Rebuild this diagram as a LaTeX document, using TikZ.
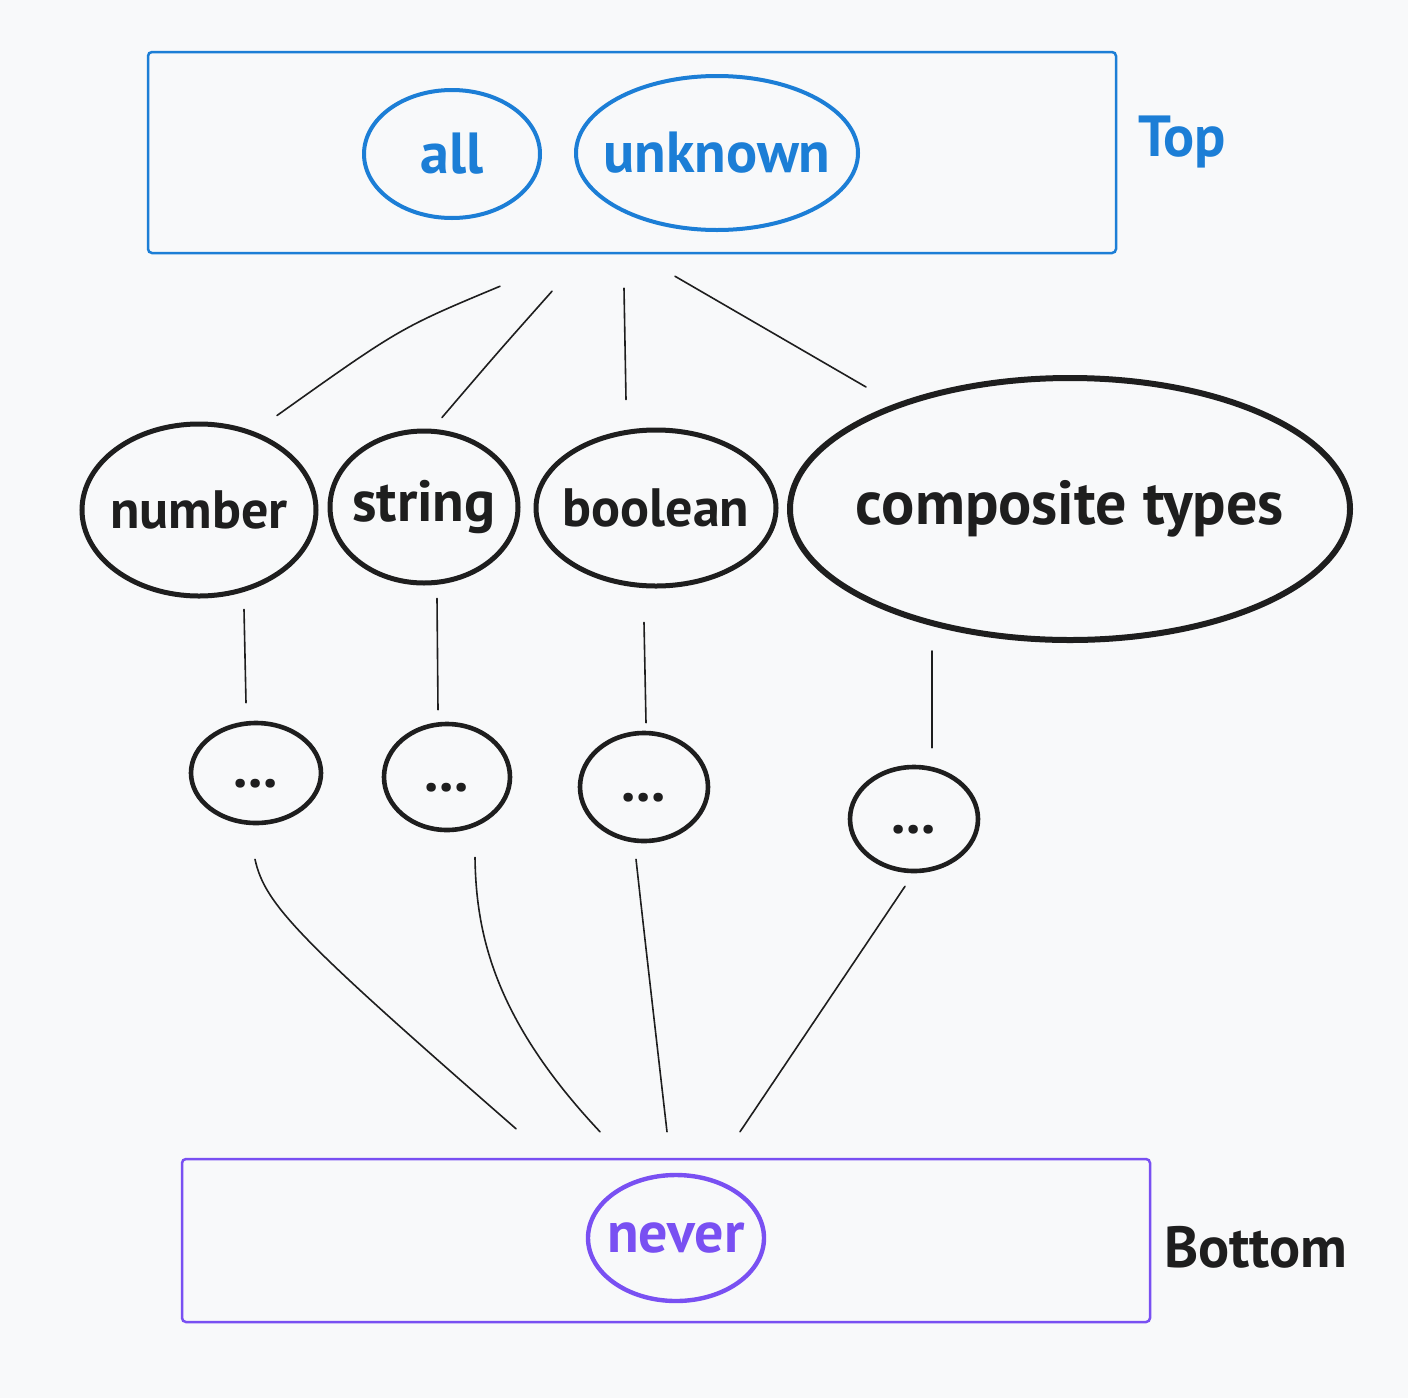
\documentclass[tikz,border=0pt]{standalone}
\usepackage{fontspec}
\setmainfont{PT Sans}
\usetikzlibrary{shapes.geometric,calc}
\definecolor{bg}{HTML}{F8F9FA}
\definecolor{tblue}{HTML}{1C7ED6}
\definecolor{tviolet}{HTML}{7950F2}
\definecolor{ink}{HTML}{1E1E1E}
\newcommand{\zw}[1]{\makebox[0pt]{#1}}
\tikzset{
  box/.style={draw, rectangle, rounded corners=2pt, line width=1.25pt, inner sep=0pt},
  oval/.style={draw=ink, ellipse, inner sep=0pt, line width=2.5pt, text=ink,
    font=\fontsize{29}{30}\selectfont\bfseries},
  smalltext/.style={font=\fontsize{27}{28}\selectfont\bfseries},
  blueoval/.style={oval, draw=tblue, text=tblue, line width=2pt},
  violetoval/.style={oval, draw=tviolet, text=tviolet, line width=2.2pt},
  dotoval/.style={oval, line width=2.3pt},
  conn/.style={draw=ink, line width=0.8pt, line cap=round},
  lbl/.style={font=\fontsize{29}{30}\selectfont\bfseries, inner sep=0pt}
}
\begin{document}
\begin{tikzpicture}[x=0.5pt,y=-0.5pt]
\fill[bg] (0,0) rectangle (1408,1398);
\useasboundingbox (0,0) rectangle (1408,1398);

% top band
\node[box, draw=tblue, minimum width=484pt, minimum height=100.5pt] (top) at (632,152.5) {};
\node[blueoval, minimum width=88pt, minimum height=64pt] (all) at (452,154) {\zw{all}};
\node[blueoval, minimum width=141pt, minimum height=77pt] (unknown) at (717,153) {\zw{unknown}};
\node[lbl, text=tblue] (toplbl) at (1182,142) {Top};

% bottom band
\node[box, draw=tviolet, minimum width=484pt, minimum height=81.5pt] (bottom) at (666,1240.5) {};
\node[violetoval, minimum width=88pt, minimum height=63pt] (never) at (676,1238) {\zw{never}};
\node[lbl, text=ink] (botlbl) at (1256,1247) {Bottom};

% middle types
\node[oval, smalltext, minimum width=117pt, minimum height=86pt] (number) at (199,510) {\zw{number}};
\node[oval, minimum width=94pt, minimum height=76pt] (string) at (424,507) {\zw{string}};
\node[oval, smalltext, minimum width=120pt, minimum height=78pt] (boolean) at (656,508) {\zw{boolean}};
\node[oval, minimum width=280pt, minimum height=131pt, line width=3pt,
  font=\fontsize{31}{32}\selectfont\bfseries] (composite) at (1070,509) {\zw{composite types}};

% subtypes
\node[dotoval, minimum width=65pt, minimum height=50pt] (d1) at (256,773) {\vphantom{x}\zw{...}};
\node[dotoval, minimum width=63pt, minimum height=53pt] (d2) at (447,777) {\vphantom{x}\zw{...}};
\node[dotoval, minimum width=64pt, minimum height=54pt] (d3) at (644,787) {\vphantom{x}\zw{...}};
\node[dotoval, minimum width=64pt, minimum height=52pt] (d4) at (914,819) {\vphantom{x}\zw{...}};

% top -> types
\draw[conn] ($(top.south)+(-132,32)$) .. controls (400,328) .. ($(number.north)+(78,-6)$);
\draw[conn] ($(top.south)+(-80,37)$) .. controls (498,352) .. ($(string.north)+(18,-11)$);
\draw[conn] ($(top.south)+(-8,34)$) -- ($(boolean.north)+(-30,-28)$);
\draw[conn] ($(top.south)+(43,22)$) -- ($(composite.north)+(-204,12)$);

% types -> subtypes
\draw[conn] ($(number.south)+(45,11)$) -- ($(d1.north)+(-10,-18)$);
\draw[conn] ($(string.south)+(13,13)$) -- ($(d2.north)+(-9,-12)$);
\draw[conn] ($(boolean.south)+(-12,34)$) -- ($(d3.north)+(2,-8)$);
\draw[conn] ($(composite.south)+(-138,8)$) -- ($(d4.north)+(18,-17)$);

% subtypes -> bottom
\draw[conn] ($(d1.south)+(-1,34)$) .. controls (265,905) and (300,940) .. ($(bottom.north)+(-150,-29)$);
\draw[conn] ($(d2.south)+(28,25)$) .. controls (476,935) and (495,1020) .. ($(bottom.north)+(-66,-26)$);
\draw[conn] ($(d3.south)+(-8,16)$) .. controls (645,940) .. ($(bottom.north)+(1,-26)$);
\draw[conn] ($(d4.south)+(-9,13)$) -- ($(bottom.north)+(74,-26)$);
\end{tikzpicture}
\end{document}
